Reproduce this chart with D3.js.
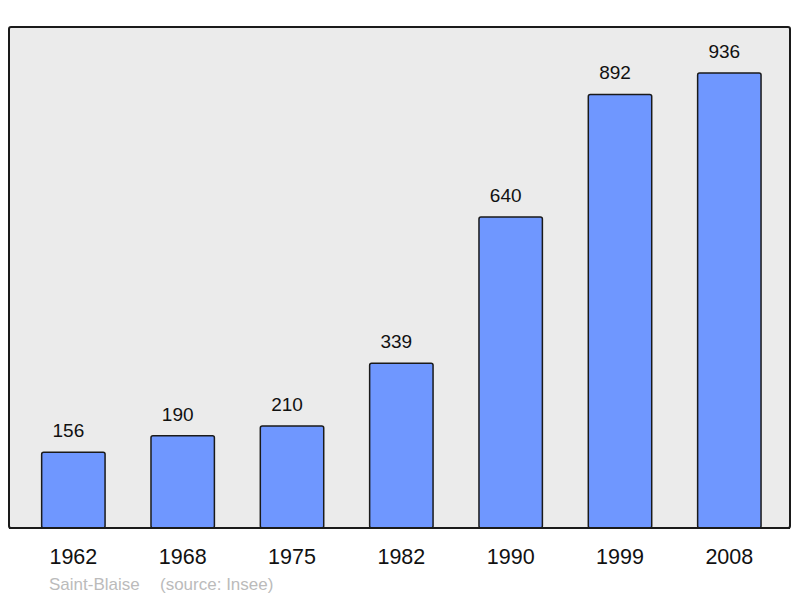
<!DOCTYPE html>
<html>
<head>
<meta charset="utf-8">
<script src="https://cdn.jsdelivr.net/npm/d3@7"></script>
<style>
  body { margin: 0; background: #fff; }
  text { font-family: "Liberation Sans", Arial, sans-serif; }
</style>
</head>
<body>
<script>
// population by census year
var years = ["1962", "1968", "1975", "1982", "1990", "1999", "2008"];
var population = [156, 190, 210, 339, 640, 892, 936];
var commune = "Saint-Blaise";
var source = "(source: Insee)";

var w = 800, h = 598;

var svg = d3.select("body")
	.append("svg")
	.attr("width", w)
	.attr("height", h);

// grey panel
svg.append("rect")
	.attr("x", 9)
	.attr("y", 27)
	.attr("width", 781)
	.attr("height", 501)
	.attr("rx", 2)
	.attr("fill", "#ebebeb")
	.attr("stroke", "#1a1a1a")
	.attr("stroke-width", 2);

var xScale = d3.scaleBand()
	.domain(years)
	.range([18.7, 784])
	.paddingInner(0.42)
	.paddingOuter(0.21);

var yScale = d3.scaleLinear()
	.domain([0, 1000])
	.range([528, 42]);

var data = years.map(function(y, i) { return {year: y, value: population[i]}; });

// bars
svg.selectAll(".bar")
	.data(data)
	.enter()
	.append("rect")
	.attr("class", "bar")
	.attr("x", function(d) { return xScale(d.year); })
	.attr("y", function(d) { return yScale(d.value); })
	.attr("width", xScale.bandwidth())
	.attr("height", function(d) { return yScale(0) - yScale(d.value); })
	.attr("rx", 2)
	.attr("fill", "#6f97ff")
	.attr("stroke", "#1a1a1a")
	.attr("stroke-width", 1.5);

// redraw bottom border over bars
svg.append("line")
	.attr("x1", 9).attr("x2", 790)
	.attr("y1", 528).attr("y2", 528)
	.attr("stroke", "#1a1a1a")
	.attr("stroke-width", 2);

// value labels (sit a bit left of the bar centre, like the original)
svg.selectAll(".value")
	.data(data)
	.enter()
	.append("text")
	.attr("class", "value")
	.attr("x", function(d) { return xScale(d.year) + xScale.bandwidth() / 2 - 5; })
	.attr("y", function(d) { return yScale(d.value) - 15; })
	.attr("text-anchor", "middle")
	.attr("font-size", 19)
	.attr("fill", "#111")
	.text(function(d) { return d.value; });

// x axis (years), no line or ticks
var xAxis = svg.append("g")
	.attr("transform", "translate(0,528)")
	.call(d3.axisBottom(xScale).tickSize(0).tickPadding(0));
xAxis.select(".domain").remove();
xAxis.selectAll("text")
	.attr("dy", null)
	.attr("y", 36)
	.attr("font-size", 21.5)
	.attr("font-family", "Liberation Sans, Arial, sans-serif")
	.attr("fill", "#111");

// footer
svg.append("text")
	.attr("x", 49)
	.attr("y", 590)
	.attr("font-size", 17)
	.attr("fill", "#bbbbbb")
	.text(commune);

svg.append("text")
	.attr("x", 160)
	.attr("y", 590)
	.attr("font-size", 17)
	.attr("fill", "#bbbbbb")
	.text(source);
</script>
</body>
</html>
